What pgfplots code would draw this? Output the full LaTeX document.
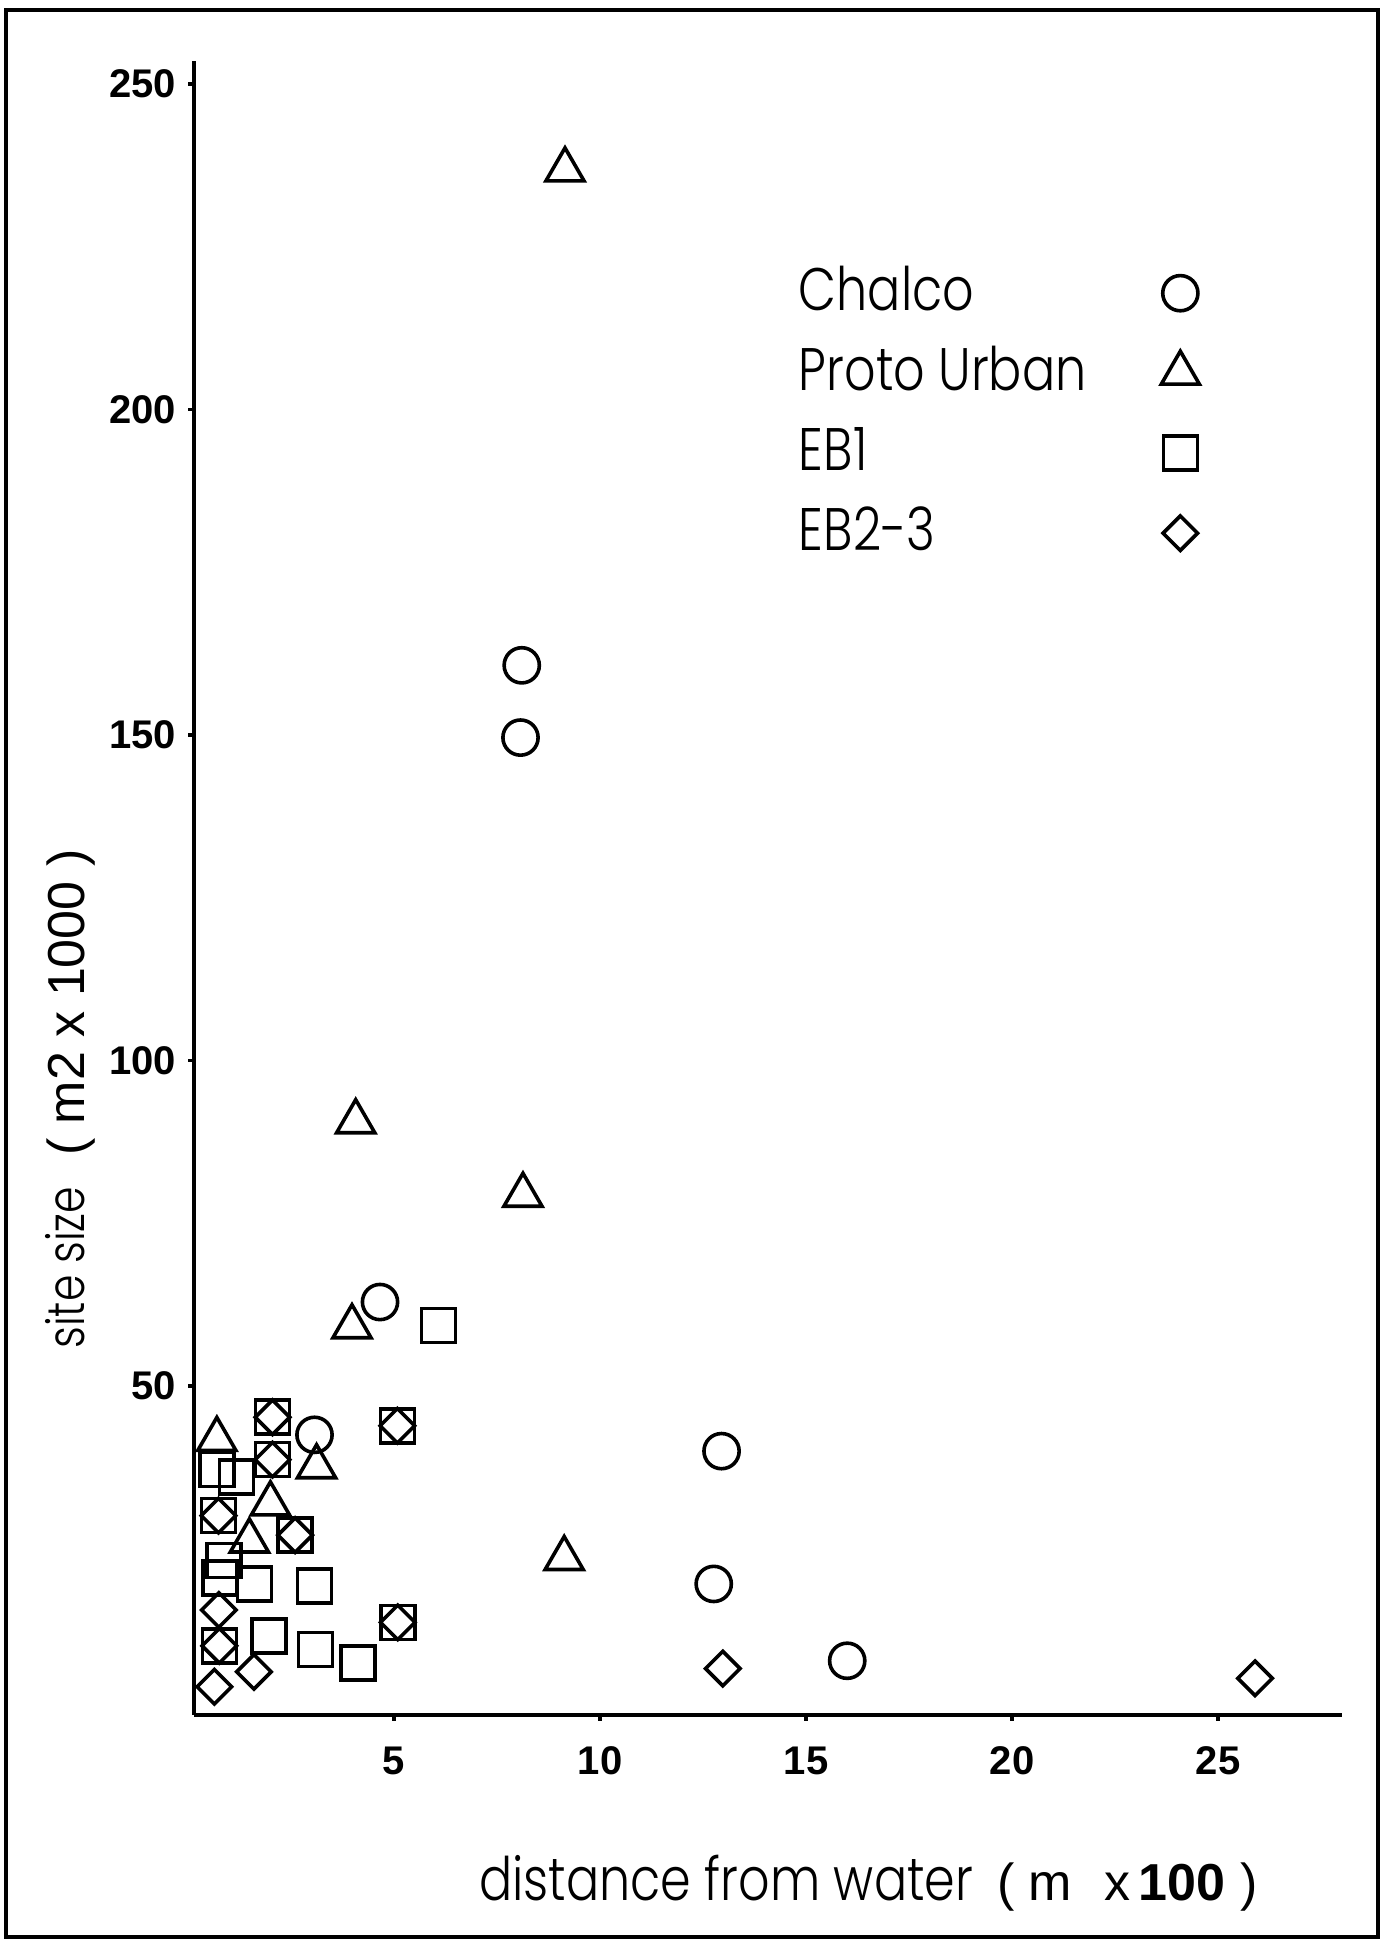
\documentclass[border=0pt]{standalone}
\usepackage{pgfplots}
\pgfplotsset{compat=1.18}
\usepackage{fontspec}
\setmainfont{Liberation Sans}
\IfFontExistsTF{Poppins Light}
  {\newfontfamily\geo[FakeStretch=0.82]{Poppins Light}}
  {\newfontfamily\geo[FakeStretch=0.82]{Poppins}}

\begin{document}
\begin{tikzpicture}
\useasboundingbox (0,0) rectangle (345.5pt,486pt);
\draw[line width=0.8pt] (1.5pt,1.75pt) rectangle (344.5pt,483.5pt);
\begin{axis}[
    at={(48.55pt,57.3pt)}, anchor=south west,
    scale only axis,
    width=286.85pt, height=413.4pt,
    xmin=0.15, xmax=28,
    ymin=-0.5, ymax=253.5,
    axis lines*=left,
    axis line style={line width=1pt, -},
    tick align=outside,
    major tick length=1.5pt,
    tick style={line width=0.8pt, black},
    xtick={5,10,15,20,25},
    ytick={50,100,150,200,250},
    ticklabel style={font=\bfseries\fontsize{10}{11}\selectfont},
    /pgf/number format/assume math mode=true,
    xticklabel style={yshift=-3pt},
    yticklabel style={xshift=0.5pt},
    clip=false,
    every axis plot/.append style={only marks, black, line width=0.9pt},
    xlabel={{\geo\fontsize{15}{15}\selectfont distance from water}\hspace{6pt}{\fontsize{13}{13}\selectfont (\ m\hspace{8pt}x\,\textbf{100}\ )}},
    xlabel style={at={(axis description cs:0.5875,-0.112)}, anchor=base, inner sep=0pt},
    ylabel={{\geo\fontsize{13}{13}\selectfont site size}\hspace{7.75pt}{\fontsize{13}{13}\selectfont (\ m2\ x\ 1000\ )}},
    ylabel style={at={(axis description cs:-0.096,0.3724)}, anchor=base, inner sep=0pt, rotate=0},
    legend plot pos=right,
    legend cell align=left,
    legend style={draw=none, fill=none,
        at={(axis description cs:0.527,0.8748)}, anchor=north west,
        inner sep=0pt, outer sep=0pt, row sep=7.5pt,
        font=\geo\fontsize{15}{15}\selectfont,
        nodes={inner sep=0pt, text height=10.5pt, text depth=2pt}},
]
% Chalco
\addplot[mark=o, mark size=4.4pt] coordinates {
    (3.07,42.5) (4.66,62.9) (8.10,160.7) (8.07,149.6)
    (12.95,40.0) (12.76,19.6) (16.0,7.8)
};
\addlegendentry{\makebox[90.6pt][l]{Chalco}}
% Proto Urban
\addplot[mark=triangle, mark size=5.5pt] coordinates {
    (0.70,41.8) (3.12,37.6) (2.0,31.9) (1.49,26.2) (3.98,59.1)
    (4.07,90.6) (8.13,79.3) (9.15,236.8) (9.13,23.5)
};
\addlegendentry{\makebox[90.6pt][l]{Proto Urban}}
% EB1 (first seven also hold an EB2-3 site)
\addplot[mark=square, mark size=4.25pt] coordinates {
    (2.05,45.2) (5.08,43.9) (2.05,38.7) (0.74,30.1) (2.60,27.1)
    (5.09,13.7) (0.76,10.1)
    (0.70,37.2) (1.18,36.0) (0.88,23.2) (0.78,20.5) (1.61,19.6)
    (3.07,19.3) (1.96,11.6) (3.09,9.55) (4.12,7.5) (6.08,59.3)
};
\addlegendentry{\makebox[90.6pt][l]{EB1}}
% EB2-3
\addplot[mark=square, mark size=3.05pt, mark options={rotate=45}] coordinates {
    (2.05,45.2) (5.08,43.9) (2.05,38.7) (0.74,30.1) (2.60,27.1)
    (5.09,13.7) (0.76,10.1)
    (0.75,15.6) (1.60,6.1) (0.64,3.8) (12.98,6.6) (25.9,5.1)
};
\addlegendentry{\makebox[90.6pt][l]{EB2-3}}
\end{axis}
\end{tikzpicture}
\end{document}
